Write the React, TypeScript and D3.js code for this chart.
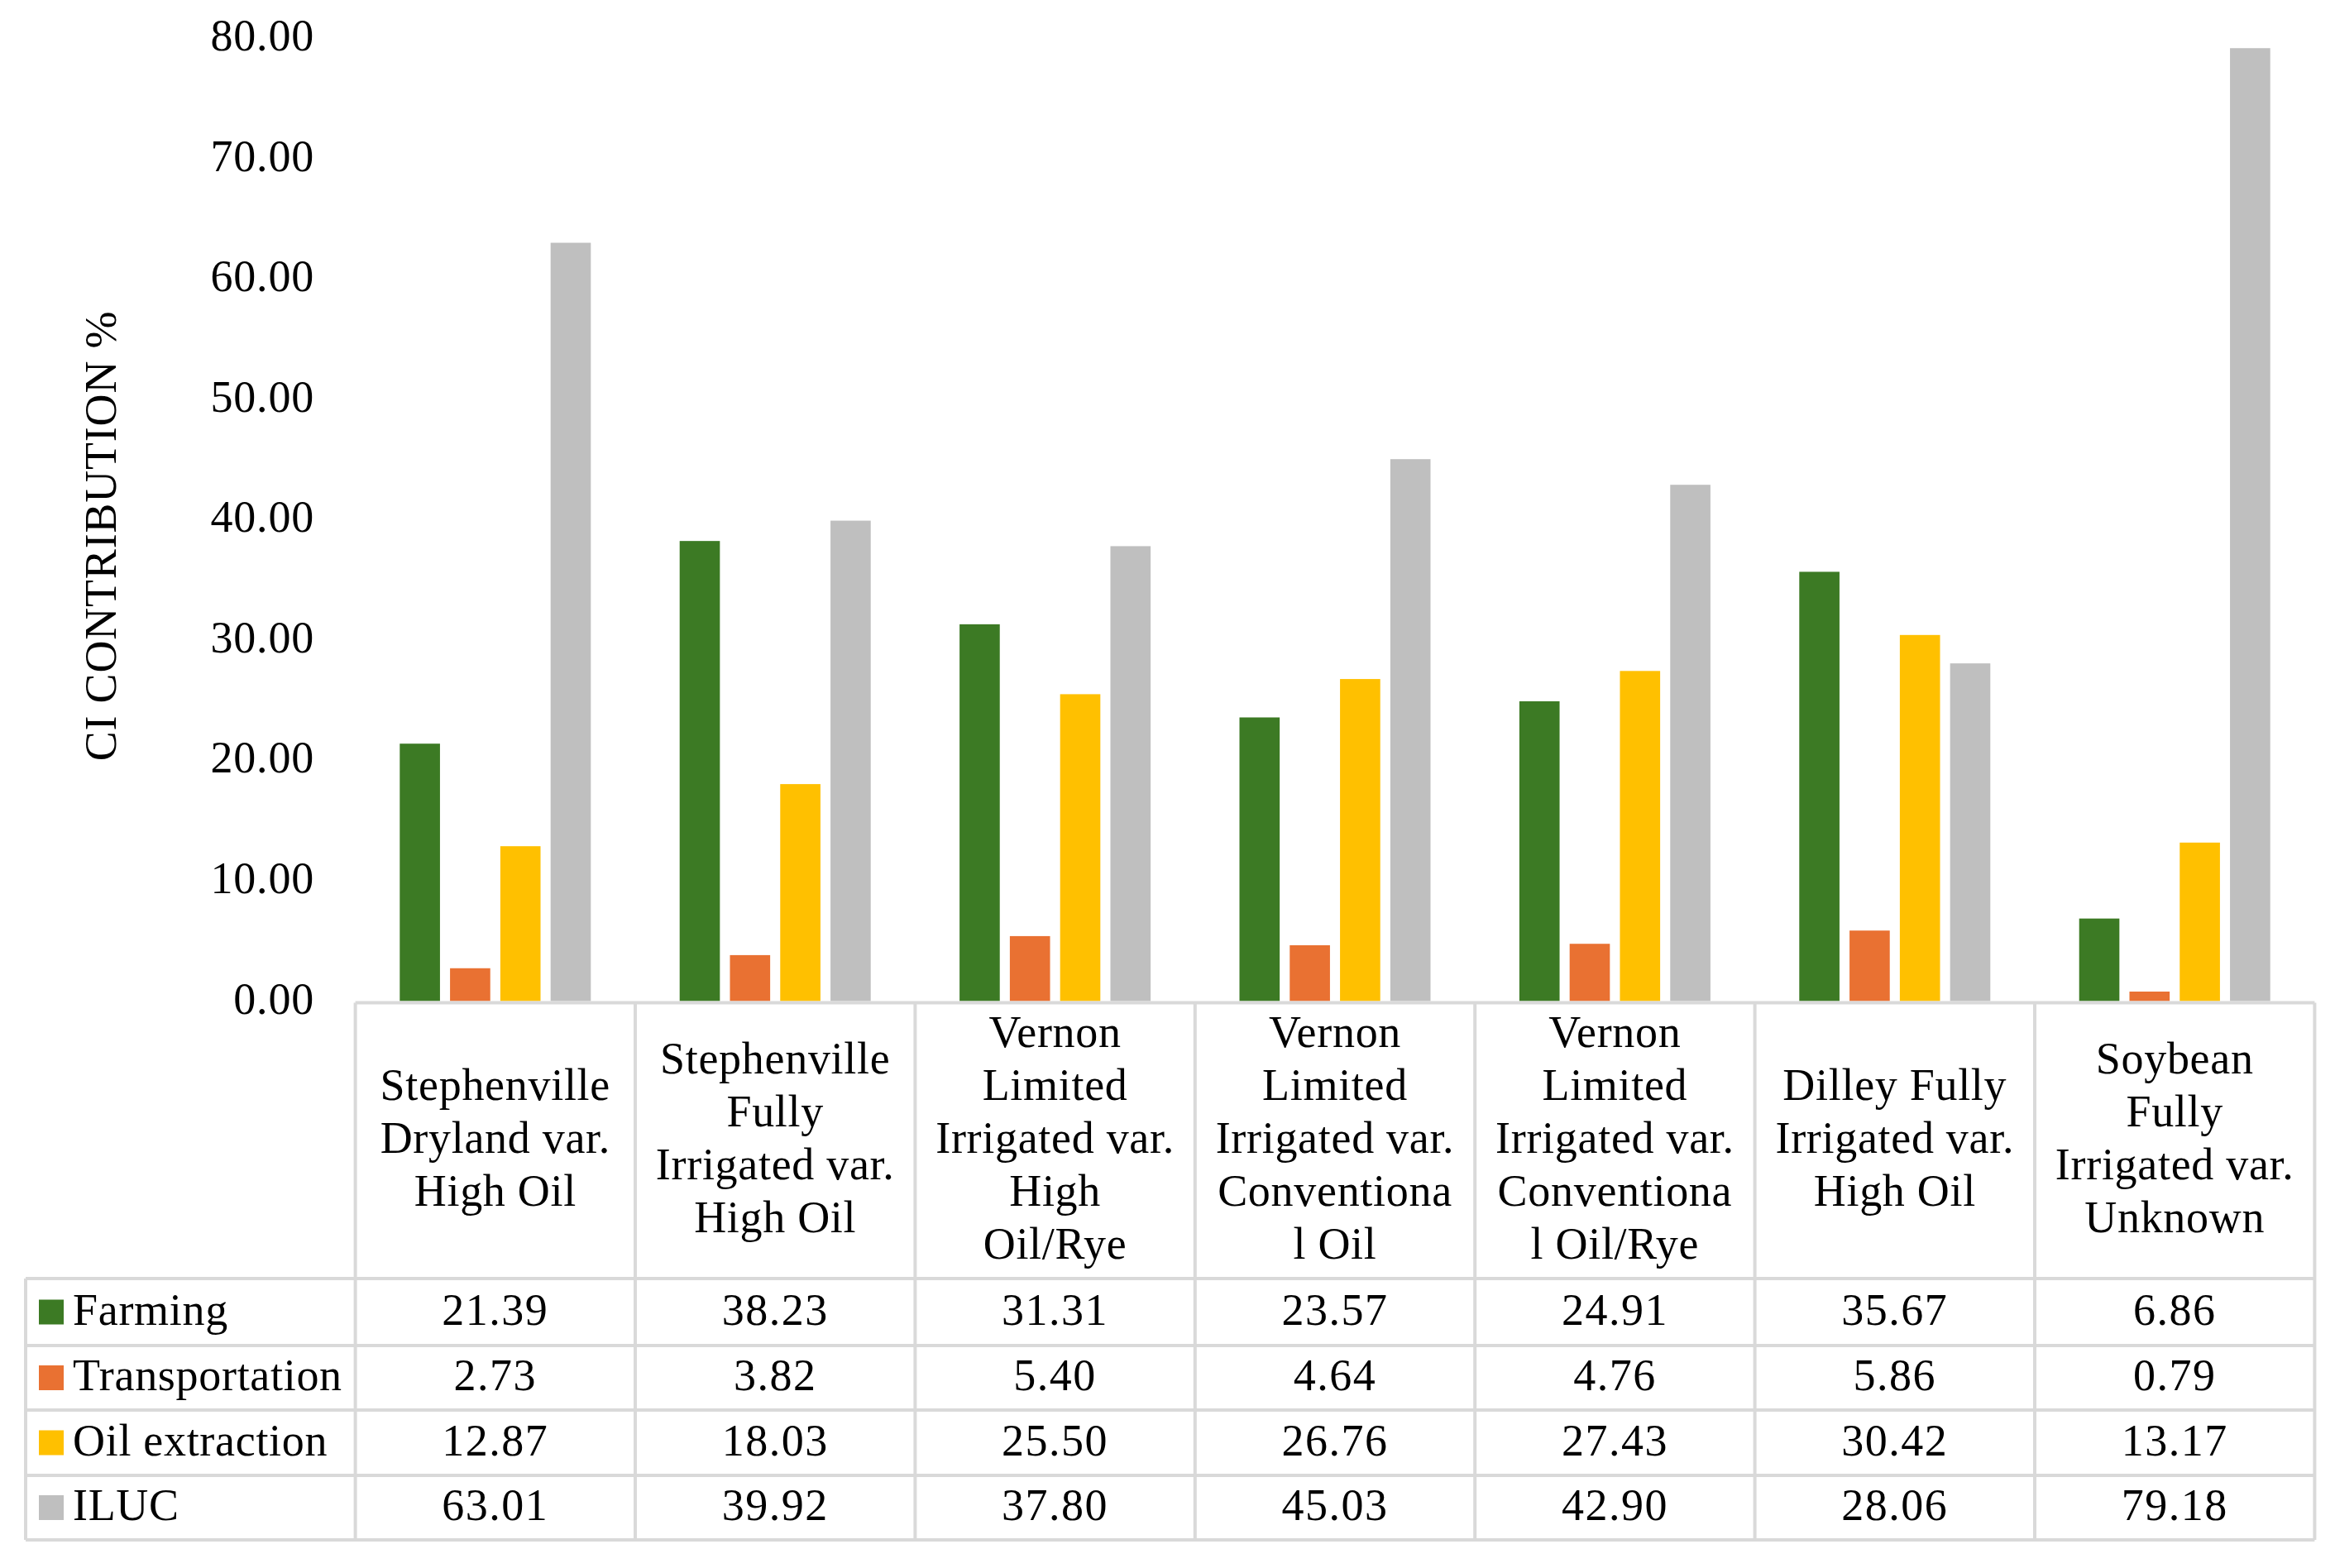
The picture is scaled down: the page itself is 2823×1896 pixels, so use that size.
import React from "react";
import * as d3 from "d3";

// Production sites / varieties, as wrapped in the table header
const categories = [
  "Stephenville Dryland var. High Oil",
  "Stephenville Fully Irrigated var. High Oil",
  "Vernon Limited Irrigated var. High Oil/Rye",
  "Vernon Limited Irrigated var. Conventional Oil",
  "Vernon Limited Irrigated var. Conventional Oil/Rye",
  "Dilley Fully Irrigated var. High Oil",
  "Soybean Fully Irrigated var. Unknown",
];
const headerLines = [
  ["Stephenville", "Dryland var.", "High Oil"],
  ["Stephenville", "Fully", "Irrigated var.", "High Oil"],
  ["Vernon", "Limited", "Irrigated var.", "High", "Oil/Rye"],
  ["Vernon", "Limited", "Irrigated var.", "Conventiona", "l Oil"],
  ["Vernon", "Limited", "Irrigated var.", "Conventiona", "l Oil/Rye"],
  ["Dilley Fully", "Irrigated var.", "High Oil"],
  ["Soybean", "Fully", "Irrigated var.", "Unknown"],
];

const seriesNames = ["Farming", "Transportation", "Oil extraction", "ILUC"];
const seriesColors = ["#3c7a24", "#e97132", "#ffc000", "#bfbfbf"];

const farming = [21.39, 38.23, 31.31, 23.57, 24.91, 35.67, 6.86];
const transportation = [2.73, 3.82, 5.4, 4.64, 4.76, 5.86, 0.79];
const oilExtraction = [12.87, 18.03, 25.5, 26.76, 27.43, 30.42, 13.17];
const iluc = [63.01, 39.92, 37.8, 45.03, 42.9, 28.06, 79.18];
const seriesValues = [farming, transportation, oilExtraction, iluc];

const yTicks = [0, 10, 20, 30, 40, 50, 60, 70, 80];
const yTitle = "CI CONTRIBUTION %";

const W = 2823;
const H = 1896;
const FONT = "'Liberation Serif', 'Times New Roman', serif";
const FS = 54;
const GRID = "#d9d9d9";

export default function App() {
  const plotLeft = 429.6;
  const plotRight = 2798.4;
  const baseY = 1210.5;
  const topY = 46.3;

  const x = d3.scaleBand<string>().domain(categories).range([plotLeft, plotRight]).padding(0);
  const groupWidth = 231;
  const groupOffset = (x.bandwidth() - groupWidth) / 2;
  const xs = d3
    .scaleBand<string>()
    .domain(seriesNames)
    .range([groupOffset, groupOffset + groupWidth])
    .paddingInner(0.2)
    .paddingOuter(0);
  const y = d3.scaleLinear().domain([0, 80]).range([baseY, topY]);
  const fmt = d3.format(".2f");

  // table geometry
  const tableTop = 1212.5;
  const headerBottom = 1546;
  const rowLines = [1546, 1627, 1705, 1784, 1862];
  const legendLeft = 31;
  const headerCenter = 1378;
  const lineH = 64;

  const colEdges = categories.map((c) => x(c) as number).concat([plotRight]);

  return (
    <svg
      width={W}
      height={H}
      style={{ position: "absolute", left: 0, top: 0, background: "#fff" }}
      fontFamily={FONT}
    >
      <rect width={W} height={H} fill="#fff" />

      {/* y axis labels */}
      {yTicks.map((t) => (
        <text key={t} x={380} y={y(t) + 15} fontSize={FS} textAnchor="end" fill="#000" letterSpacing={0.8}>
          {fmt(t)}
        </text>
      ))}
      <text
        transform={`translate(140,648) rotate(-90)`}
        fontSize={FS}
        textAnchor="middle"
        fill="#000"
        letterSpacing={0.8}
      >
        {yTitle}
      </text>

      {/* bars */}
      {categories.map((c, ci) => (
        <g key={c} transform={`translate(${x(c)},0)`}>
          {seriesNames.map((s, si) => {
            const v = seriesValues[si][ci];
            return (
              <rect
                key={s}
                x={xs(s)}
                y={y(v)}
                width={xs.bandwidth()}
                height={baseY - y(v)}
                fill={seriesColors[si]}
              />
            );
          })}
        </g>
      ))}

      {/* data table grid */}
      <g stroke={GRID} strokeWidth={4} fill="none">
        <line x1={plotLeft} x2={plotRight} y1={tableTop} y2={tableTop} />
        {rowLines.map((ry) => (
          <line key={ry} x1={legendLeft} x2={plotRight} y1={ry} y2={ry} />
        ))}
        <line x1={legendLeft} x2={legendLeft} y1={headerBottom} y2={rowLines[rowLines.length - 1]} />
        {colEdges.map((cx, i) => (
          <line key={i} x1={cx} x2={cx} y1={tableTop} y2={rowLines[rowLines.length - 1]} />
        ))}
      </g>

      {/* header cells */}
      {categories.map((c, ci) => {
        const lines = headerLines[ci];
        const cx = (x(c) as number) + x.bandwidth() / 2;
        const first = headerCenter + 16 - ((lines.length - 1) / 2) * lineH;
        return (
          <text key={c} fontSize={FS} textAnchor="middle" fill="#000" letterSpacing={0.7}>
            {lines.map((l, li) => (
              <tspan key={li} x={cx} y={first + li * lineH}>
                {l}
              </tspan>
            ))}
          </text>
        );
      })}

      {/* legend + value rows */}
      {seriesNames.map((s, si) => {
        const top = rowLines[si];
        const bottom = rowLines[si + 1];
        const mid = (top + bottom) / 2;
        return (
          <g key={s}>
            <rect x={47} y={mid - 15} width={30} height={30} fill={seriesColors[si]} />
            <text x={88} y={mid + 15} fontSize={FS} fill="#000" letterSpacing={0.7}>
              {s}
            </text>
            {categories.map((c, ci) => (
              <text
                key={c}
                x={(x(c) as number) + x.bandwidth() / 2}
                y={mid + 15}
                fontSize={FS}
                textAnchor="middle"
                fill="#000"
                letterSpacing={1.5}
              >
                {fmt(seriesValues[si][ci])}
              </text>
            ))}
          </g>
        );
      })}
    </svg>
  );
}
